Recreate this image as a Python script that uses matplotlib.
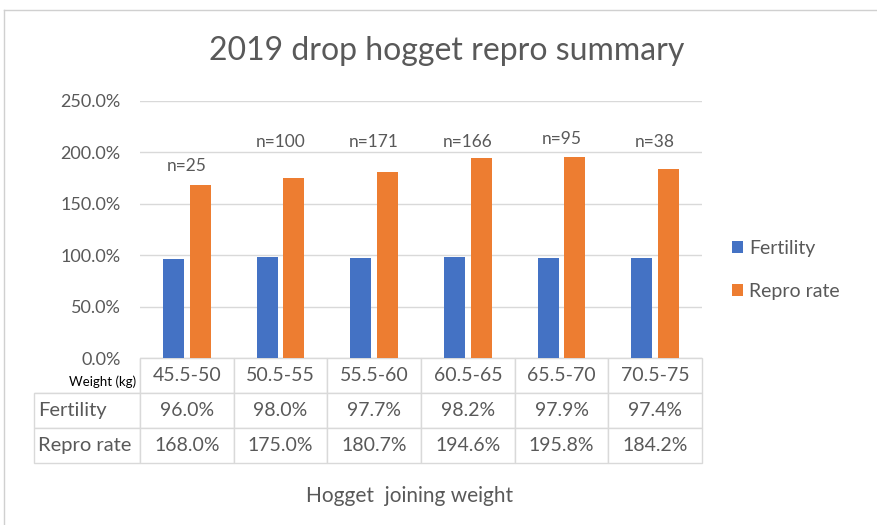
import numpy as np
import matplotlib
matplotlib.use('Agg')
import matplotlib.pyplot as plt
from matplotlib.lines import Line2D

plt.rcParams['font.family'] = ['Lato', 'DejaVu Sans']

# ── Data ──────────────────────────────────────────────────────
weights    = ['45.5-50', '50.5-55', '55.5-60', '60.5-65', '65.5-70', '70.5-75']
fertility  = [96.0, 98.0, 97.7, 98.2, 97.9, 97.4]
repro_rate = [168.0, 175.0, 180.7, 194.6, 195.8, 184.2]
n_labels   = ['n=25', 'n=100', 'n=171', 'n=166', 'n=95', 'n=38']
n_label_y  = [187, 210, 210, 210, 213, 210]

BLUE   = '#4472C4'
ORANGE = '#ED7D31'
GREY   = '#595959'
GRID   = '#D9D9D9'

W, H = 878, 525
fig = plt.figure(figsize=(W / 100, H / 100), dpi=100)

def fx(px):
    return px / W

def fy(py):
    return 1 - py / H

# outer chart border (top and left visible)
fig.add_artist(Line2D([fx(4), fx(877)], [fy(9.5), fy(9.5)], color='#D0D0D0', lw=1))
fig.add_artist(Line2D([fx(4.5), fx(4.5)], [fy(9.5), fy(525)], color='#D0D0D0', lw=1))

left, right, top, bottom = 140, 702, 101, 358.3
ax = fig.add_axes([fx(left), fy(bottom), fx(right - left), (bottom - top) / H])

x = np.arange(len(weights))
bw = 0.224
off = 0.144
ax.bar(x - off, fertility, bw, color=BLUE, label='Fertility', zorder=3)
ax.bar(x + off, repro_rate, bw, color=ORANGE, label='Repro rate', zorder=3)

for i, (lab, yv) in enumerate(zip(n_labels, n_label_y)):
    ax.text(i, yv, lab, ha='center', va='center', fontsize=12.5, color=GREY)

ax.set_xlim(-0.5, len(weights) - 0.5)
ax.set_ylim(0, 250)
ax.set_yticks(np.arange(0, 251, 50))
ax.set_yticklabels([f'{v:.1f}%' for v in np.arange(0, 251, 50)])
ax.tick_params(axis='y', length=0, pad=14, labelsize=13, labelcolor=GREY)
ax.set_xticks([])
ax.grid(axis='y', color=GRID, lw=1, zorder=0)
for s in ax.spines.values():
    s.set_visible(False)

# ── Data table ────────────────────────────────────────────────
rows = [['Weight (kg)'] + weights,
        ['Fertility'] + [f'{v:.1f}%' for v in fertility],
        ['Repro rate'] + [f'{v:.1f}%' for v in repro_rate]]
lab_w = (left - 34) / (right - 34)
col_w = [lab_w] + [(1 - lab_w) / 6] * 6
tbl_h = (463 - bottom) / (bottom - top)
tbl = ax.table(cellText=rows, colWidths=col_w, cellLoc='center',
               bbox=[(34 - left) / (right - left), -tbl_h,
                     (right - 34) / (right - left), tbl_h])
tbl.auto_set_font_size(False)
tbl.set_fontsize(14)
for (r, c), cell in tbl.get_celld().items():
    cell.set_edgecolor(GRID)
    cell.set_linewidth(1)
    cell.get_text().set_color(GREY)
    if c == 0:
        cell.PAD = 0.035
        cell.get_text().set_ha('left')
        cell.get_text().set_fontsize(14.5)
        if r == 0:
            cell.visible_edges = 'BR'
            cell.get_text().set_ha('right')
            cell.get_text().set_color('black')
            cell.get_text().set_fontsize(9.5)
            cell.get_text().set_va('top')

fig.text(fx(410), fy(496), 'Hogget  joining weight', ha='center', va='center',
         fontsize=15, color=GREY)
fig.text(fx(447), fy(51), '2019 drop hogget repro summary', ha='center', va='center',
         fontsize=23, color=GREY)

handles, labels = ax.get_legend_handles_labels()
fig.legend(handles, labels, loc='center left', bbox_to_anchor=(fx(715), fy(270)),
           frameon=False, fontsize=14, labelcolor=GREY, handlelength=0.55,
           handleheight=0.55, handletextpad=0.3, labelspacing=1.35)

fig.savefig('out.png', dpi=100)
